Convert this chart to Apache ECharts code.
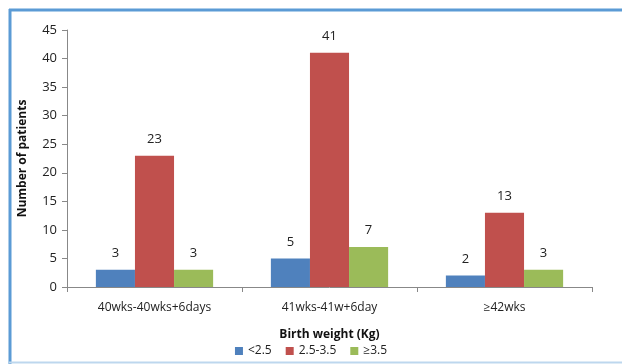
<!DOCTYPE html>
<html>
<head>
<meta charset="utf-8">
<script src="https://cdn.jsdelivr.net/npm/echarts@6/dist/echarts.min.js"></script>
<style>
  html, body { margin: 0; padding: 0; background: #fff; }
  #main { width: 622px; height: 364px; }
</style>
</head>
<body>
<div id="main"></div>
<script>
var categories = ['40wks-40wks+6days', '41wks-41w+6day', '\u226542wks'];
var under25 = [3, 5, 2];
var mid = [23, 41, 13];
var over35 = [3, 7, 3];
var seriesNames = ['<2.5', '2.5-3.5', '\u22653.5'];
var colors = ['#4F81BD', '#C0504D', '#9BBB59'];

var font = 'Open Sans';
var myChart = echarts.init(document.getElementById('main'));

function bar(name, data, color) {
  return {
    name: name,
    type: 'bar',
    data: data,
    barGap: 0,
    barCategoryGap: '33%',
    itemStyle: { color: color },
    label: {
      show: true,
      position: 'top',
      distance: 10,
      color: '#222',
      fontFamily: font,
      fontSize: 13
    }
  };
}

myChart.setOption({
  animation: false,
  color: colors,
  textStyle: { fontFamily: font },
  grid: { left: 67, right: 30, top: 30, bottom: 77 },
  legend: {
    bottom: 2,
    left: 'center',
    itemWidth: 8,
    itemHeight: 8,
    itemGap: 14,
    icon: 'rect',
    textStyle: { fontFamily: font, fontSize: 12, color: '#222' },
    data: seriesNames
  },
  xAxis: {
    type: 'category',
    data: categories,
    name: 'Birth weight (Kg)',
    nameLocation: 'middle',
    nameGap: 42,
    nameTextStyle: { fontWeight: 'bold', fontSize: 12, color: '#111', fontFamily: font },
    axisLine: { lineStyle: { color: '#888' } },
    axisTick: { show: true, length: 5, lineStyle: { color: '#888' } },
    axisLabel: { color: '#222', fontSize: 12, margin: 15, fontFamily: font }
  },
  yAxis: {
    type: 'value',
    min: 0,
    max: 45,
    interval: 5,
    name: 'Number of patients',
    nameLocation: 'middle',
    nameGap: 38,
    nameTextStyle: { fontWeight: 'bold', fontSize: 12, color: '#111', fontFamily: font },
    axisLine: { show: true, lineStyle: { color: '#888' } },
    axisTick: { show: true, length: 5, lineStyle: { color: '#888' } },
    axisLabel: { color: '#222', fontSize: 13, margin: 10, fontFamily: font },
    splitLine: { show: false }
  },
  graphic: [
    { type: 'line', shape: { x1: 9, y1: 10, x2: 622, y2: 10 }, style: { stroke: '#5B9BD5', lineWidth: 3 } },
    { type: 'line', shape: { x1: 10, y1: 9, x2: 10, y2: 364 }, style: { stroke: '#5B9BD5', lineWidth: 3 } },
    { type: 'line', shape: { x1: 9, y1: 362.5, x2: 622, y2: 362.5 }, style: { stroke: '#BDD7EE', lineWidth: 2 } }
  ],
  series: [
    bar(seriesNames[0], under25, colors[0]),
    bar(seriesNames[1], mid, colors[1]),
    bar(seriesNames[2], over35, colors[2])
  ]
});
</script>
</body>
</html>
